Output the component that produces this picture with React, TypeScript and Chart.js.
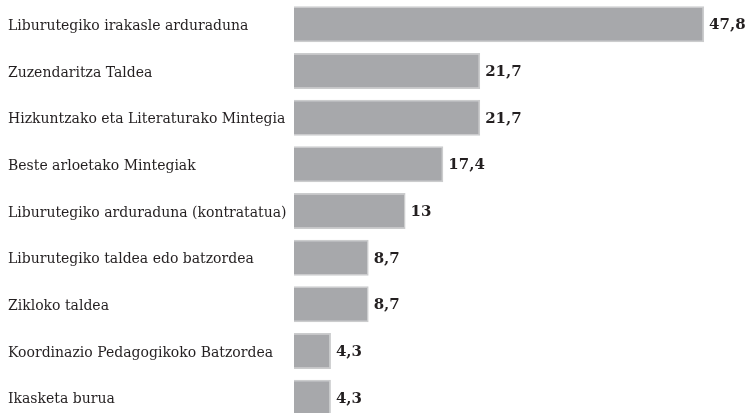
import React, { useEffect, useRef } from "react";
import { Chart, registerables } from "chart.js";

Chart.register(...registerables);

const categories: string[] = [
  "Liburutegiko irakasle arduraduna",
  "Zuzendaritza Taldea",
  "Hizkuntzako eta Literaturako Mintegia",
  "Beste arloetako Mintegiak",
  "Liburutegiko arduraduna (kontratatua)",
  "Liburutegiko taldea edo batzordea",
  "Zikloko taldea",
  "Koordinazio Pedagogikoko Batzordea",
  "Ikasketa burua",
];

const values: number[] = [47.8, 21.7, 21.7, 17.4, 13, 8.7, 8.7, 4.3, 4.3];

const valueLabels: string[] = ["47,8", "21,7", "21,7", "17,4", "13", "8,7", "8,7", "4,3", "4,3"];

const valueLabelPlugin = {
  id: "valueLabels",
  afterDatasetsDraw(chart: any) {
    const ctx = chart.ctx;
    const meta = chart.getDatasetMeta(0);
    ctx.save();
    ctx.font = "bold 15px 'DejaVu Serif'";
    ctx.fillStyle = "#231f20";
    ctx.textAlign = "left";
    ctx.textBaseline = "middle";
    meta.data.forEach((bar: any, i: number) => {
      ctx.fillText(valueLabels[i], bar.x + 5, bar.y + 1);
    });
    ctx.restore();
  },
};

export default function App() {
  const ref = useRef<HTMLCanvasElement | null>(null);
  useEffect(() => {
    if (!ref.current) return;
    const chart = new Chart(ref.current, {
      type: "bar",
      data: {
        labels: categories,
        datasets: [
          {
            data: values,
            backgroundColor: "#a7a8ab",
            borderColor: "#cbcccd",
            borderWidth: 1.5,
            barPercentage: 0.77,
            categoryPercentage: 1,
          },
        ],
      },
      options: {
        indexAxis: "y",
        animation: false,
        responsive: false,
        layout: { padding: { left: 8, right: 27, top: 1, bottom: 0 } },
        plugins: {
          legend: { display: false },
          tooltip: { enabled: false },
        },
        scales: {
          x: {
            display: false,
            min: 0,
            max: 50,
          },
          y: {
            grid: { display: false, drawTicks: false },
            border: { display: false },
            ticks: {
              crossAlign: "far",
              color: "#231f20",
              padding: 0,
              labelOffset: 2,
              font: { family: "'DejaVu Serif'", size: 14 },
            },
            afterFit(scale: any) {
              scale.width = 286;
              scale.paddingTop = 0;
              scale.paddingBottom = 0;
            },
          },
        },
      },
      plugins: [valueLabelPlugin],
    });
    return () => chart.destroy();
  }, []);
  return (
    <div
      style={{
        position: "fixed",
        left: 0,
        top: 0,
        width: 750,
        height: 413,
        overflow: "hidden",
        background: "#ffffff",
      }}
    >
      <canvas ref={ref} width={750} height={421} style={{ display: "block" }} />
    </div>
  );
}
